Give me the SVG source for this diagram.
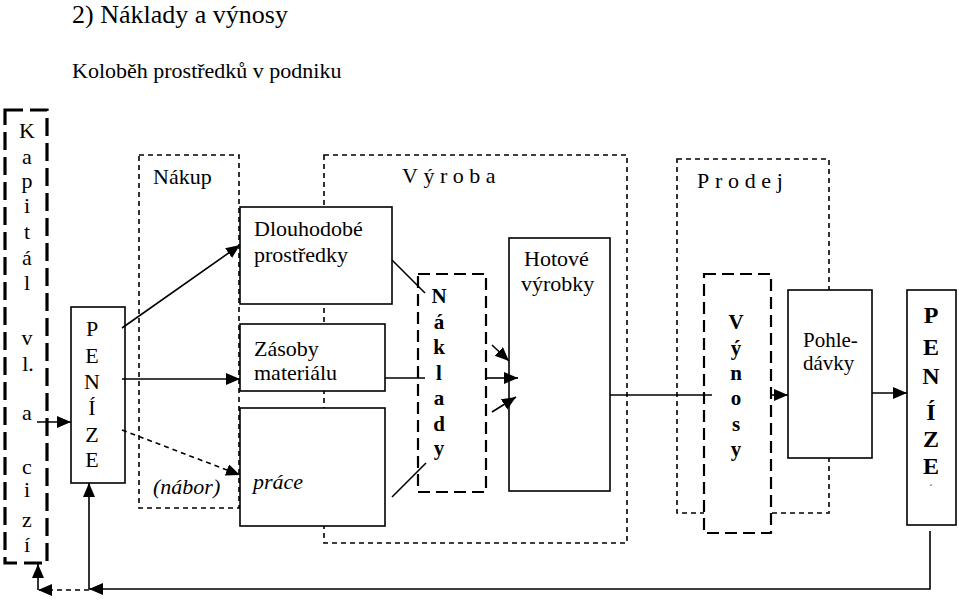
<svg xmlns="http://www.w3.org/2000/svg" width="959" height="600" viewBox="0 0 959 600">
<style>
text{font-family:'Liberation Serif','Times New Roman',serif;fill:#000}
.t{font-size:22px}
.b{font-size:21px;font-weight:bold}
.B{font-size:24px;font-weight:bold}
.box{fill:#fff;stroke:#000;stroke-width:1.6}
.grp{fill:none;stroke:#000;stroke-width:1.6;stroke-dasharray:5 4}
.grpw{fill:#fff;stroke:#000;stroke-width:2.2;stroke-dasharray:12 6}
.ln{fill:none;stroke:#000;stroke-width:1.6}
.arr{fill:none;stroke:#000;stroke-width:1.6;marker-end:url(#ah)}
.darr{fill:none;stroke:#000;stroke-width:1.6;stroke-dasharray:5 4;marker-end:url(#ah)}
</style>
<defs>
<marker id="ah" markerUnits="userSpaceOnUse" markerWidth="16" markerHeight="14" refX="14" refY="6" orient="auto">
<path d="M0,0 L14,6 L0,12 Z" fill="#000"/>
</marker>
</defs>
<rect width="959" height="600" fill="#fff"/>
<text x="72" y="23" style="font-size:26px">2) Náklady a výnosy</text>
<text x="72" y="78" class="t">Koloběh prostředků v podniku</text>

<g id="kapital">
<rect x="5" y="110" width="42" height="453" fill="none" stroke="#000" stroke-width="3.2" stroke-dasharray="18 7"/>
<text class="t" text-anchor="middle" x="27" y="138">K</text>
<text class="t" text-anchor="middle" x="27" y="164">a</text>
<text class="t" text-anchor="middle" x="27" y="188">p</text>
<text class="t" text-anchor="middle" x="27" y="213">i</text>
<text class="t" text-anchor="middle" x="27" y="239">t</text>
<text class="t" text-anchor="middle" x="27" y="265">á</text>
<text class="t" text-anchor="middle" x="27" y="290">l</text>
<text class="t" text-anchor="middle" x="27" y="345">v</text>
<text class="t" text-anchor="middle" x="28" y="371">l.</text>
<text class="t" text-anchor="middle" x="27" y="420">a</text>
<text class="t" text-anchor="middle" x="27" y="474">c</text>
<text class="t" text-anchor="middle" x="27" y="497">i</text>
<text class="t" text-anchor="middle" x="27" y="527">z</text>
<text class="t" text-anchor="middle" x="27" y="552">í</text>
</g>

<g id="nakup">
<rect class="grp" x="139" y="155" width="100" height="353"/>
<text class="t" x="153" y="184">Nákup</text>
<text class="t" x="153" y="494" font-style="italic">(nábor)</text>
</g>

<g id="vyroba">
<rect class="grp" x="324" y="155" width="303" height="388"/>
<text class="t" x="402" y="183" letter-spacing="5.5">Výroba</text>
</g>

<g id="prodej">
<rect class="grp" x="677" y="159" width="152" height="354"/>
<text class="t" x="697" y="188" letter-spacing="5.7">Prodej</text>
</g>

<g id="penize1">
<rect class="box" x="71" y="307" width="54" height="176"/>
<text class="t" text-anchor="middle" x="92" y="336">P</text>
<text class="t" text-anchor="middle" x="92" y="363">E</text>
<text class="t" text-anchor="middle" x="92" y="389">N</text>
<text class="t" text-anchor="middle" x="92" y="415">Í</text>
<text class="t" text-anchor="middle" x="92" y="442">Z</text>
<text class="t" text-anchor="middle" x="92" y="467">E</text>
</g>

<g id="dlouhodobe">
<rect class="box" x="240" y="207" width="152" height="97"/>
<text class="t" x="254" y="236">Dlouhodobé</text>
<text class="t" x="254" y="262">prostředky</text>
</g>

<g id="zasoby">
<rect class="box" x="240" y="324" width="145" height="67"/>
<text class="t" x="254" y="356">Zásoby</text>
<text class="t" x="254" y="380">materiálu</text>
</g>

<g id="prace">
<rect class="box" x="240" y="408" width="145" height="118"/>
<text class="t" x="253" y="489" font-style="italic">práce</text>
</g>

<g id="naklady">
<rect class="grpw" x="418" y="274" width="68" height="218"/>
<text class="b" text-anchor="middle" x="439" y="303">N</text>
<text class="b" text-anchor="middle" x="439" y="329">á</text>
<text class="b" text-anchor="middle" x="439" y="354">k</text>
<text class="b" text-anchor="middle" x="439" y="380">l</text>
<text class="b" text-anchor="middle" x="439" y="405">a</text>
<text class="b" text-anchor="middle" x="439" y="431">d</text>
<text class="b" text-anchor="middle" x="439" y="455">y</text>
</g>

<g id="hotove">
<rect class="box" x="509" y="238" width="101" height="253"/>
<text class="t" x="524" y="266">Hotové</text>
<text class="t" x="521" y="291">výrobky</text>
</g>

<g id="vynosy">
<rect class="grpw" x="704" y="274" width="67" height="259"/>
<text class="b" text-anchor="middle" x="736" y="329">V</text>
<text class="b" text-anchor="middle" x="736" y="355">ý</text>
<text class="b" text-anchor="middle" x="736" y="380">n</text>
<text class="b" text-anchor="middle" x="736" y="405">o</text>
<text class="b" text-anchor="middle" x="736" y="431">s</text>
<text class="b" text-anchor="middle" x="736" y="456">y</text>
</g>

<g id="pohledavky">
<rect class="box" x="788" y="290" width="84" height="168"/>
<text class="t" x="803" y="347" style="font-size:21px">Pohle-</text>
<text class="t" x="803" y="370" style="font-size:21px">dávky</text>
</g>

<g id="penize2">
<rect class="box" x="907" y="290" width="49" height="235"/>
<text class="B" text-anchor="middle" x="931" y="323">P</text>
<text class="B" text-anchor="middle" x="931" y="355">E</text>
<text class="B" text-anchor="middle" x="931" y="384">N</text>
<text class="B" text-anchor="middle" x="931" y="420">Í</text>
<text class="B" text-anchor="middle" x="931" y="447">Z</text>
<text class="B" text-anchor="middle" x="931" y="474">E</text>
<text text-anchor="middle" x="931" y="492" style="font-size:10px">´</text>
</g>

<g id="connectors">
<line class="arr" x1="37" y1="422" x2="71" y2="422"/>
<line class="arr" x1="122" y1="328" x2="240" y2="245"/>
<line class="arr" x1="122" y1="379" x2="240" y2="379"/>
<line class="darr" x1="122" y1="430" x2="240" y2="475"/>
<line class="ln" x1="392" y1="260" x2="425" y2="293"/>
<line class="ln" x1="385" y1="378" x2="425" y2="378"/>
<line class="ln" x1="392" y1="497" x2="426" y2="463"/>
<line class="arr" x1="492" y1="345" x2="509" y2="361"/>
<line class="arr" x1="486" y1="378" x2="518" y2="378"/>
<line class="arr" x1="492" y1="412" x2="516" y2="397"/>
<line class="ln" x1="610" y1="395" x2="712" y2="395"/>
<line class="arr" x1="771" y1="395" x2="788" y2="395"/>
<line class="arr" x1="872" y1="393" x2="907" y2="393"/>
<polyline class="arr" points="930,531 930,589 89,589"/>
<line class="arr" x1="89" y1="589" x2="89" y2="483"/>
<line class="darr" x1="89" y1="590" x2="38" y2="590"/>
<line class="arr" x1="38" y1="590" x2="38" y2="564"/>
</g>
</svg>
